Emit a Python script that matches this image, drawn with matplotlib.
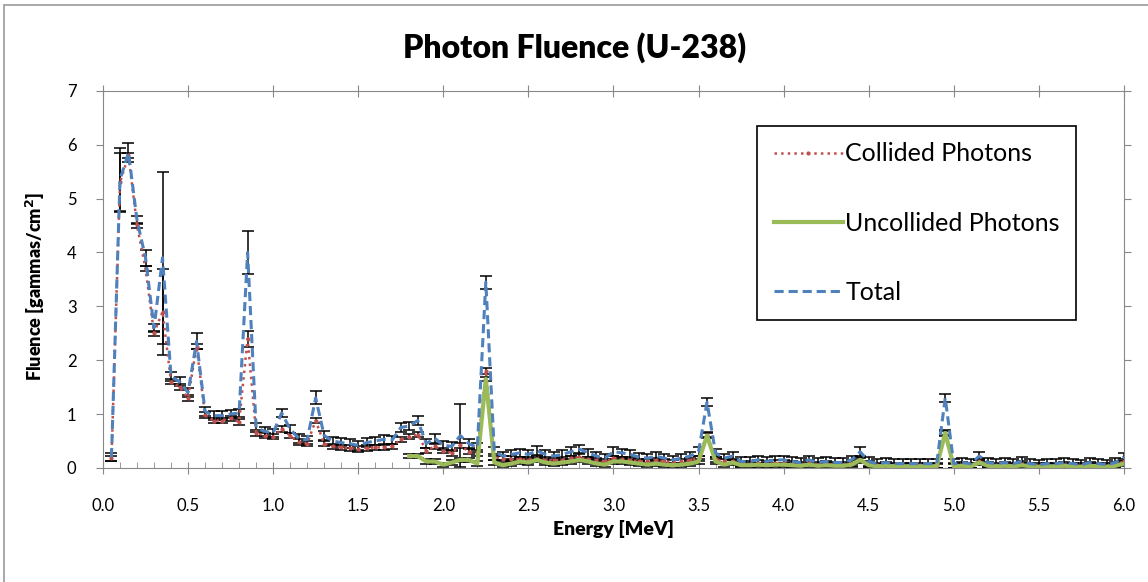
import numpy as np
import matplotlib
matplotlib.use('Agg')
import matplotlib.pyplot as plt
from matplotlib.patches import Rectangle

plt.rcParams['font.family'] = ['Lato', 'DejaVu Sans']

# energy bins [MeV]
energy = np.round(np.arange(1, 121) * 0.05, 2)

total = [0.20, 5.35, 5.85, 4.60, 3.90, 2.60, 3.90, 1.70, 1.60, 1.40,
         2.35, 1.05, 0.97, 0.97, 1.00, 1.02, 4.00, 0.75, 0.68, 0.65,
         1.02, 0.72, 0.55, 0.52, 1.30, 0.60, 0.50, 0.47, 0.45, 0.42,
         0.47, 0.50, 0.53, 0.52, 0.75, 0.78, 0.88, 0.45, 0.55, 0.42,
         0.40, 0.60, 0.45, 0.38, 3.45, 0.30, 0.22, 0.25, 0.28, 0.25,
         0.32, 0.25, 0.22, 0.25, 0.30, 0.35, 0.28, 0.22, 0.18, 0.30,
         0.28, 0.25, 0.20, 0.18, 0.22, 0.18, 0.15, 0.18, 0.22, 0.30,
         1.22, 0.28, 0.18, 0.22, 0.12, 0.12, 0.15, 0.12, 0.15, 0.15,
         0.12, 0.10, 0.15, 0.10, 0.12, 0.10, 0.10, 0.15, 0.30, 0.12,
         0.08, 0.10, 0.08, 0.08, 0.08, 0.08, 0.08, 0.08, 1.30, 0.08,
         0.10, 0.08, 0.22, 0.10, 0.08, 0.10, 0.08, 0.12, 0.08, 0.06,
         0.08, 0.08, 0.10, 0.08, 0.06, 0.10, 0.08, 0.06, 0.10, 0.20]

collided = [0.18, 5.30, 5.80, 4.50, 3.70, 2.50, 2.90, 1.60, 1.50, 1.30,
            2.25, 0.98, 0.88, 0.88, 0.92, 0.85, 2.40, 0.65, 0.60, 0.58,
            0.72, 0.60, 0.48, 0.45, 0.88, 0.45, 0.40, 0.38, 0.37, 0.35,
            0.37, 0.38, 0.38, 0.40, 0.53, 0.58, 0.62, 0.32, 0.40, 0.32,
            0.28, 0.42, 0.30, 0.28, 1.80, 0.20, 0.17, 0.17, 0.16, 0.15,
            0.17, 0.15, 0.14, 0.15, 0.18, 0.20, 0.16, 0.14, 0.12, 0.18,
            0.16, 0.15, 0.12, 0.12, 0.14, 0.12, 0.10, 0.12, 0.14, 0.18,
            0.62, 0.16, 0.12, 0.12, 0.07, 0.07, 0.09, 0.07, 0.09, 0.09,
            0.07, 0.06, 0.09, 0.06, 0.07, 0.06, 0.06, 0.09, 0.15, 0.07,
            0.05, 0.06, 0.05, 0.05, 0.05, 0.05, 0.05, 0.05, 0.65, 0.05,
            0.06, 0.05, 0.12, 0.06, 0.05, 0.06, 0.05, 0.07, 0.05, 0.04,
            0.05, 0.05, 0.06, 0.05, 0.04, 0.06, 0.05, 0.04, 0.06, 0.12]

# uncollided only tallied from 1.80 MeV
uncollided = [np.nan] * 35 + [
              0.22, 0.22, 0.12, 0.12, 0.06,
              0.10, 0.15, 0.15, 0.08, 1.65, 0.10, 0.05, 0.08, 0.12, 0.10,
              0.15, 0.10, 0.08, 0.10, 0.12, 0.15, 0.12, 0.08, 0.06, 0.12,
              0.12, 0.10, 0.08, 0.06, 0.08, 0.06, 0.05, 0.06, 0.08, 0.12,
              0.60, 0.12, 0.06, 0.10, 0.05, 0.05, 0.06, 0.05, 0.06, 0.06,
              0.05, 0.04, 0.06, 0.04, 0.05, 0.04, 0.04, 0.06, 0.15, 0.05,
              0.03, 0.04, 0.03, 0.03, 0.03, 0.03, 0.03, 0.03, 0.65, 0.03,
              0.04, 0.03, 0.10, 0.04, 0.03, 0.04, 0.03, 0.05, 0.03, 0.02,
              0.03, 0.03, 0.04, 0.03, 0.02, 0.04, 0.03, 0.02, 0.04, 0.08]

# error bars: typical size plus the larger ones
total_err = [0.08] * 120
for e, v in {0.10: 0.58, 0.15: 0.18, 0.25: 0.15, 0.35: 1.60, 0.55: 0.15,
             0.85: 0.40, 1.25: 0.12, 2.10: 0.58, 2.25: 0.12, 3.55: 0.07,
             4.95: 0.07}.items():
    total_err[int(round(e / 0.05)) - 1] = v
collided_err = [0.05] * 120
for e, v in {0.10: 0.55, 0.35: 0.80, 0.85: 0.15}.items():
    collided_err[int(round(e / 0.05)) - 1] = v
uncollided_err = [0.04] * 120

fig = plt.figure(figsize=(11.48, 5.82), dpi=100)
ax = fig.add_axes([0.0897, 0.196, 0.8893, 0.648])

# chart area border
fig.patches.append(Rectangle((4 / 1148, -0.01), 1.05, 1 - 5 / 582 + 0.01,
                             transform=fig.transFigure, fill=False,
                             edgecolor='#9a9a9a', linewidth=1.2))

ebar = dict(ecolor='black', elinewidth=1.1, capsize=4, capthick=1.1)
ax.errorbar(energy, collided, yerr=collided_err, color='#C0504D', linestyle=':',
            linewidth=1.8, marker='.', markersize=4, label='Collided Photons', **ebar)
ax.errorbar(energy, uncollided, yerr=uncollided_err, color='#9BBB59', linestyle='-',
            linewidth=3, label='Uncollided Photons', **ebar)
ax.errorbar(energy, total, yerr=total_err, color='#4F81BD', linestyle=(0, (3, 1.6)),
            linewidth=2.2, label='Total', **ebar)

ax.set_xlim(0, 6)
ax.set_ylim(0, 7)
ax.set_xticks(np.arange(0, 6.01, 0.5))
ax.set_xticks(np.arange(0, 6.01, 0.1), minor=True)
ax.set_yticks(range(0, 8))
ax.set_xticklabels([f'{v:.1f}' for v in np.arange(0, 6.01, 0.5)])
ax.tick_params(axis='x', which='major', direction='inout', length=8, top=True,
               labelsize=12, pad=18, color='#888888')
ax.tick_params(axis='x', which='minor', direction='in', length=4, color='#888888')
ax.tick_params(axis='y', direction='out', length=5, right=True, labelsize=12,
               pad=14, color='#888888')
for s in ax.spines.values():
    s.set_color('#888888')

# title is centred on the whole chart, not on the plot area
ax.set_title('Photon Fluence (U-238)', fontsize=23, fontweight='heavy', pad=24,
             x=0.462)
ax.set_xlabel('Energy [MeV]', fontsize=14, fontweight='heavy', labelpad=4)
ax.set_ylabel('Fluence [gammas/cm$^\\mathbf{2}$]', fontsize=13, fontweight='heavy')
ax.yaxis.set_label_coords(-0.055, 0.48)

handles, labels = ax.get_legend_handles_labels()
handles = [h[0] for h in handles]
leg = ax.legend(handles, labels, loc='upper left', bbox_to_anchor=(0.641, 0.907),
                fontsize=18, labelspacing=1.85, handlelength=2.75, handletextpad=0.1,
                borderpad=0.66, borderaxespad=0, fancybox=False, edgecolor='black',
                framealpha=1)
leg.get_frame().set_linewidth(1.2)

fig.savefig('out.png', dpi=100)
